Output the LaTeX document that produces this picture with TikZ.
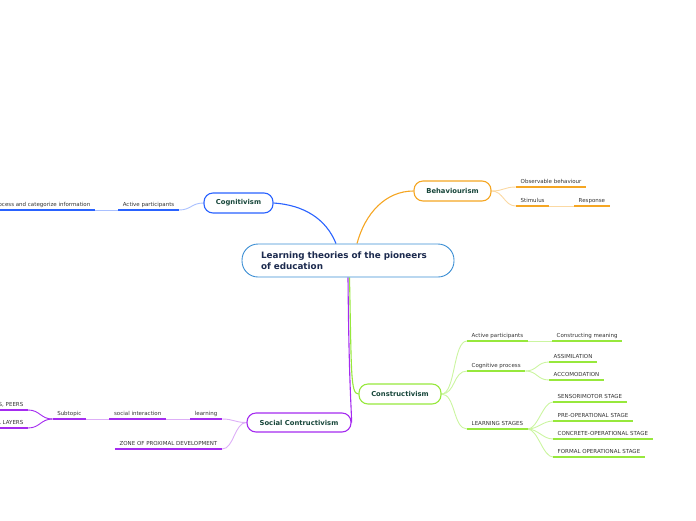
\documentclass[tikz,border=0pt]{standalone}
\usepackage{fontspec}
\setmainfont{DejaVu Sans}
\pgfdeclarelayer{bg}
\pgfsetlayers{bg,main}
\definecolor{topicblue}{HTML}{2962FF}
\definecolor{topicbluel}{HTML}{A9C0FF}
\definecolor{corange}{HTML}{F5A623}
\definecolor{corangel}{HTML}{FBD9A3}
\definecolor{cgreen}{HTML}{97E83C}
\definecolor{cgreenl}{HTML}{CBF5A0}
\definecolor{cpurple}{HTML}{A52BF0}
\definecolor{cpurplel}{HTML}{DDAEF7}
\definecolor{cmain}{HTML}{3B8ED4}
\definecolor{tnavy}{HTML}{1C2A4E}
\definecolor{tteal}{HTML}{17463A}
\definecolor{tgray}{HTML}{333333}
\begin{document}
\begin{tikzpicture}[x=1pt,y=-1pt,
 topic/.style={draw, line width=1.1pt, rounded corners=9pt, fill=white, minimum height=20pt, inner sep=0pt, font=\bfseries\fontsize{6.8}{8}\selectfont, text=tteal},
 lbl/.style={inner xsep=4.5pt, inner ysep=2.5pt, text height=4.2pt, text depth=1.3pt, font=\fontsize{5.5}{6}\selectfont, text=tgray},
 mainconn/.style={line width=1.1pt},
 conn/.style={line width=0.9pt},
 ul/.style={line width=1.9pt}
]
\useasboundingbox (0,0) rectangle (696,520);

% central node
\node[draw=cmain, line width=0.9pt, rounded corners=16pt, fill=white, minimum width=212pt, minimum height=33pt, text width=174pt, inner xsep=19pt, inner ysep=0pt, align=left, font=\bfseries\fontsize{8.8}{11}\selectfont, text=tnavy] (cen) at (348,260.5) {Learning theories of the pioneers\\of education};

% main topics
\node[topic, draw=topicblue, minimum width=69pt] (cog) at (238.5,203) {Cognitivism};
\node[topic, draw=corange, minimum width=77pt] (beh) at (452.5,191) {Behaviourism};
\node[topic, draw=cgreen, minimum width=82pt] (con) at (400,394) {Constructivism};
\node[topic, draw=cpurple, minimum width=104pt, minimum height=19pt] (soc) at (299,422.5) {Social Contructivism};

% Cognitivism children
\node[lbl, anchor=south east] (cap) at (179,210) {Active participants};
\node[lbl, anchor=south east] (cpr) at (95,210) {Process and categorize information};
\draw[ul, draw=topicblue] (cap.south west) -- (cap.south east);
\draw[ul, draw=topicblue] (cpr.south west) -- (cpr.south east);

% Behaviourism children
\node[lbl, anchor=south west] (bob) at (516,187) {Observable behaviour};
\node[lbl, anchor=south west] (bst) at (516,206) {Stimulus};
\node[lbl, anchor=south west] (bre) at (574,206) {Response};
\draw[ul, corange] (bob.south west) -- (bob.south east);
\draw[ul, corange] (bst.south west) -- (bst.south east);
\draw[ul, corange] (bre.south west) -- (bre.south east);

% Constructivism children
\node[lbl, anchor=south west] (kap) at (467,341) {Active participants};
\node[lbl, anchor=south west] (kcm) at (552,341) {Constructing meaning};
\node[lbl, anchor=south west] (kcp) at (467,371) {Cognitive process};
\node[lbl, anchor=south west] (kas) at (549,362) {ASSIMILATION};
\node[lbl, anchor=south west] (kac) at (549,380) {ACCOMODATION};
\node[lbl, anchor=south west] (kls) at (467,429) {LEARNING STAGES};
\node[lbl, anchor=south west] (ks1) at (553,402) {SENSORIMOTOR STAGE};
\node[lbl, anchor=south west] (ks2) at (553,421) {PRE-OPERATIONAL STAGE};
\node[lbl, anchor=south west] (ks3) at (553,439) {CONCRETE-OPERATIONAL STAGE};
\node[lbl, anchor=south west] (ks4) at (553,457) {FORMAL OPERATIONAL STAGE};
\foreach \n in {kap,kcm,kcp,kas,kac,kls,ks1,ks2,ks3,ks4}
  \draw[ul, cgreen] (\n.south west) -- (\n.south east);

% Social Constructivism children
\node[lbl, anchor=south east] (sle) at (222,419) {learning};
\node[lbl, anchor=south east] (ssi) at (166,419) {social interaction};
\node[lbl, anchor=south east] (ssu) at (86,419) {Subtopic};
\node[lbl, anchor=south east] (sp1) at (28,410) {ADULTS, PEERS};
\node[lbl, anchor=south east] (sp2) at (28,428) {SOCIAL LAYERS};
\node[lbl, anchor=south east] (szp) at (222,449) {ZONE OF PROXIMAL DEVELOPMENT};
\foreach \n in {sle,ssi,ssu,sp1,sp2,szp}
  \draw[ul, cpurple] (\n.south west) -- (\n.south east);

\begin{pgfonlayer}{bg}
% main connectors
\draw[mainconn, topicblue] ([xshift=-12pt]cen.north) .. controls +(-10,-25) and +(30,2) .. (cog.east);
\draw[mainconn, corange] ([xshift=9pt]cen.north) .. controls +(8,-30) and +(-28,0) .. (beh.west);
\draw[mainconn, cpurple] (cen.south) .. controls +(1,110) and +(0,-14) .. (soc.east);
\draw[mainconn, cgreen] ([xshift=1.5pt]cen.south) .. controls +(2,95) and +(-8,0) .. (con.west);
% Cognitivism
\draw[conn, topicbluel] (cog.west) .. controls +(-12,0) and +(12,0) .. (cap.south east);
\draw[conn, topicbluel] (cap.south west) -- (cpr.south east);
% Behaviourism
\draw[conn, corangel] (beh.east) .. controls +(12,0) and +(-12,0) .. (bob.south west);
\draw[conn, corangel] (beh.east) .. controls +(12,0) and +(-12,0) .. (bst.south west);
\draw[conn, corangel] (bst.south east) -- (bre.south west);
% Constructivism
\draw[conn, cgreenl] (con.east) .. controls +(14,0) and +(-14,0) .. (kap.south west);
\draw[conn, cgreenl] (con.east) .. controls +(14,0) and +(-14,0) .. (kcp.south west);
\draw[conn, cgreenl] (con.east) .. controls +(14,0) and +(-14,0) .. (kls.south west);
\draw[conn, cgreenl] (kap.south east) -- (kcm.south west);
\draw[conn, cgreenl] (kcp.south east) .. controls +(12,0) and +(-12,0) .. (kas.south west);
\draw[conn, cgreenl] (kcp.south east) .. controls +(12,0) and +(-12,0) .. (kac.south west);
\foreach \n in {ks1,ks2,ks3,ks4}
  \draw[conn, cgreenl] (kls.south east) .. controls +(10,0) and +(-10,0) .. (\n.south west);
% Social Constructivism
\draw[conn, cpurplel] (soc.west) .. controls +(-12,0) and +(12,0) .. (sle.south east);
\draw[conn, cpurplel] (soc.west) .. controls +(-12,0) and +(12,0) .. (szp.south east);
\draw[conn, cpurplel] (sle.south west) -- (ssi.south east);
\draw[conn, cpurplel] (ssi.south west) -- (ssu.south east);
\draw[conn, cpurple] (ssu.south west) .. controls +(-12,0) and +(12,0) .. (sp1.south east);
\draw[conn, cpurple] (ssu.south west) .. controls +(-12,0) and +(12,0) .. (sp2.south east);
\end{pgfonlayer}
\end{tikzpicture}
\end{document}
